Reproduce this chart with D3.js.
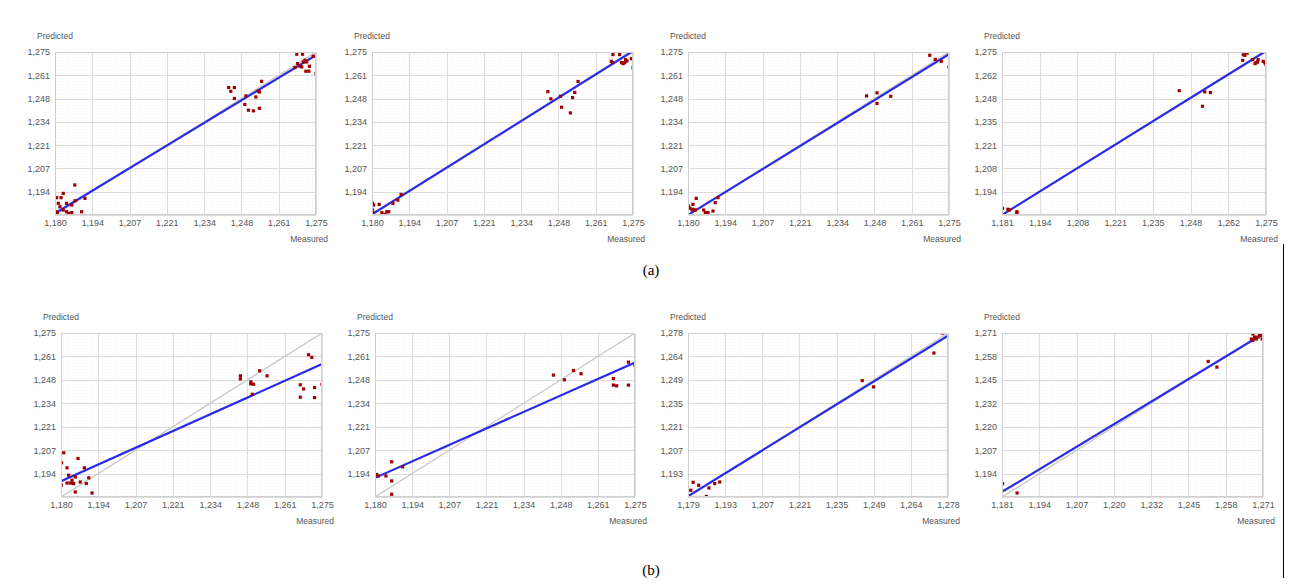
<!DOCTYPE html>
<html><head><meta charset="utf-8">
<script src="https://cdn.jsdelivr.net/npm/d3@7"></script>
<style>
html,body{margin:0;padding:0;background:#fff;}
svg{display:block;}
</style></head>
<body>
<svg id="chart" width="1298" height="588"></svg>
<script>
// ---------- DATA ----------
const panelIds = ["a1","a2","a3","a4","b1","b2","b3","b4"];
const xDomains = [[1.180,1.275],[1.180,1.275],[1.180,1.275],[1.181,1.275],[1.180,1.275],[1.180,1.275],[1.17895,1.27765],[1.181,1.271]];
const yDomains = xDomains;
const tickLabels = [
  ["1,180","1,194","1,207","1,221","1,234","1,248","1,261","1,275"],
  ["1,180","1,194","1,207","1,221","1,234","1,248","1,261","1,275"],
  ["1,180","1,194","1,207","1,221","1,234","1,248","1,261","1,275"],
  ["1,181","1,194","1,208","1,221","1,235","1,248","1,262","1,275"],
  ["1,180","1,194","1,207","1,221","1,234","1,248","1,261","1,275"],
  ["1,180","1,194","1,207","1,221","1,234","1,248","1,261","1,275"],
  ["1,179","1,193","1,207","1,221","1,235","1,249","1,264","1,278"],
  ["1,181","1,194","1,207","1,220","1,232","1,245","1,258","1,271"]
];
// regression line: predicted value at the left and right ends of the measured axis
const fitLo = [1.1810,1.1804,1.1800,1.1810,1.1891,1.1911,1.1794,1.1838];
const fitHi = [1.2731,1.2756,1.2737,1.2756,1.2570,1.2579,1.2760,1.2705];

const pointsA1 = [[1.2680,1.2737],[1.2701,1.2737],[1.2683,1.2682],[1.2673,1.2659],[1.2704,1.2692],[1.2710,1.2702],[1.2716,1.2692],[1.2726,1.2667],[1.2713,1.2638],[1.2724,1.2638],[1.2692,1.2667],[1.2740,1.2725],[1.2750,1.2624],[1.2698,1.2663],
 [1.2432,1.2543],[1.2453,1.2543],[1.2440,1.2521],[1.2453,1.2479],[1.2495,1.2494],[1.2491,1.2444],[1.2504,1.2411],[1.2522,1.2407],[1.2544,1.2422],[1.2531,1.2488],[1.2544,1.2517],[1.2552,1.2579],[1.2540,1.2523],
 [1.1806,1.1901],[1.1822,1.1901],[1.1830,1.1926],[1.1812,1.1868],[1.1818,1.1848],[1.1804,1.1819],[1.1808,1.1810],[1.1842,1.1819],[1.1849,1.1810],[1.1855,1.1800],[1.1861,1.1814],[1.1873,1.1883],[1.1897,1.1819],[1.1909,1.1897],[1.1872,1.1975],[1.1842,1.1868],[1.1830,1.1829],[1.1861,1.1858]];
const pointsA2 = [[1.2677,1.2735],[1.2701,1.2735],[1.2671,1.2696],[1.2675,1.2688],[1.2708,1.2688],[1.2720,1.2688],[1.2723,1.2706],[1.2744,1.2711],[1.2750,1.2659],[1.2714,1.2682],[1.2728,1.2698],
 [1.2440,1.2519],[1.2451,1.2477],[1.2490,1.2428],[1.2522,1.2395],[1.2530,1.2484],[1.2538,1.2514],[1.2550,1.2578],[1.2486,1.2492],
 [1.1802,1.1868],[1.1806,1.1858],[1.1802,1.1829],[1.1803,1.1814],[1.1826,1.1862],[1.1836,1.1814],[1.1842,1.1800],[1.1854,1.1819],[1.1848,1.1804],[1.1861,1.1819],[1.1876,1.1868],[1.1894,1.1887],[1.1906,1.1920]];
const pointsA3 = [[1.2680,1.2731],[1.2700,1.2707],[1.2722,1.2696],[1.2750,1.2663],
 [1.2450,1.2494],[1.2488,1.2512],[1.2488,1.2450],[1.2538,1.2492],
 [1.1802,1.1852],[1.1808,1.1839],[1.1818,1.1862],[1.1821,1.1833],[1.1827,1.1829],[1.1830,1.1897],[1.1815,1.1829],[1.1857,1.1829],[1.1863,1.1814],[1.1873,1.1814],[1.1891,1.1823],[1.1899,1.1872],[1.1909,1.1901]];
const pointsA4 = [[1.2675,1.2731],[1.2669,1.2734],[1.2678,1.2750],[1.2667,1.2702],[1.2683,1.2744],[1.2702,1.2706],[1.2711,1.2683],[1.2720,1.2692],[1.2722,1.2706],[1.2714,1.2688],[1.2740,1.2696],[1.2750,1.2677],[1.2746,1.2688],
 [1.2441,1.2527],[1.2524,1.2437],[1.2532,1.2520],[1.2552,1.2516],
 [1.1812,1.1848],[1.1831,1.1843],[1.1837,1.1839],[1.1863,1.1829],[1.1863,1.1810],[1.1863,1.1822]];
const pointsB1 = [[1.2701,1.2624],[1.2713,1.2609],[1.2671,1.2450],[1.2683,1.2426],[1.2723,1.2434],[1.2750,1.2453],[1.2671,1.2378],[1.2723,1.2376],
 [1.2453,1.2502],[1.2453,1.2484],[1.2491,1.2455],[1.2501,1.2453],[1.2496,1.2395],[1.2523,1.2531],[1.2550,1.2502],[1.2491,1.2467],
 [1.1810,1.2056],[1.1802,1.1998],[1.1822,1.1969],[1.1801,1.1868],[1.1828,1.1926],[1.1834,1.1881],[1.1822,1.1881],[1.1844,1.1878],[1.1840,1.1897],[1.1852,1.1916],[1.1862,1.2023],[1.1870,1.1887],[1.1885,1.1969],[1.1892,1.1878],[1.1901,1.1911],[1.1913,1.1823],[1.1852,1.1829],[1.1846,1.1878]];
const pointsB2 = [[1.2726,1.2581],[1.2750,1.2562],[1.2671,1.2486],[1.2671,1.2448],[1.2683,1.2444],[1.2726,1.2448],
 [1.2452,1.2506],[1.2492,1.2479],[1.2525,1.2533],[1.2553,1.2514],
 [1.1800,1.1930],[1.1806,1.1930],[1.1812,1.1922],[1.1840,1.1922],[1.1861,1.2004],[1.1901,1.1975],[1.1861,1.1893],[1.1861,1.1816]];
const pointsB3 = [[1.2755,1.2776],[1.2723,1.2656],[1.2451,1.2490],[1.2494,1.2452],
 [1.1800,1.1830],[1.1809,1.1878],[1.1830,1.1860],[1.1869,1.1844],[1.1891,1.1870],[1.1910,1.1880],[1.1859,1.1793]];
const pointsB4 = [[1.2675,1.2705],[1.2681,1.2688],[1.2670,1.2677],[1.2675,1.2670],[1.2687,1.2677],[1.2698,1.2706],[1.2704,1.2695],[1.2707,1.2677],[1.2693,1.2688],
 [1.2521,1.2554],[1.2551,1.2523],
 [1.1812,1.1883],[1.1862,1.1832]];
const allPoints = [pointsA1,pointsA2,pointsA3,pointsA4,pointsB1,pointsB2,pointsB3,pointsB4];
const groupLabels = ["(a)","(b)"];
const xTitle = "Measured", yTitle = "Predicted";

// ---------- LAYOUT ----------
const boxes = [
  {x0:55, x1:316, y0:52, y1:215},
  {x0:372,x1:633, y0:52, y1:215},
  {x0:688,x1:949, y0:52, y1:215},
  {x0:1002,x1:1266,y0:52, y1:215},
  {x0:61, x1:322, y0:333,y1:497},
  {x0:375,x1:635, y0:333,y1:497},
  {x0:688,x1:948, y0:333,y1:497},
  {x0:1002,x1:1263,y0:333,y1:497}
];
const svg = d3.select("#chart");
const defs = svg.append("defs");
const pat = defs.append("pattern").attr("id","dots").attr("width",3).attr("height",3).attr("patternUnits","userSpaceOnUse");
pat.append("rect").attr("width",3).attr("height",3).attr("fill","#fff");
pat.append("rect").attr("width",1).attr("height",1).attr("fill","#f5f5f5");

const FONT = "Liberation Sans, Arial, sans-serif";
const txtCol = "#555";

panelIds.forEach((id,i)=>{
  const b = boxes[i];
  const x = d3.scaleLinear().domain(xDomains[i]).range([b.x0,b.x1]);
  const y = d3.scaleLinear().domain(yDomains[i]).range([b.y1,b.y0]);
  const ticksX = d3.range(8).map(k=>xDomains[i][0]+k*(xDomains[i][1]-xDomains[i][0])/7);
  const ticksY = d3.range(8).map(k=>yDomains[i][0]+k*(yDomains[i][1]-yDomains[i][0])/7);
  const g = svg.append("g").attr("id","panel-"+id);
  defs.append("clipPath").attr("id","clip-"+id).append("rect")
    .attr("x",b.x0).attr("y",b.y0).attr("width",b.x1-b.x0).attr("height",b.y1-b.y0);

  g.append("rect").attr("x",b.x0).attr("y",b.y0).attr("width",b.x1-b.x0).attr("height",b.y1-b.y0)
    .attr("fill","url(#dots)");

  // grid
  g.append("g").selectAll("line").data(ticksX).join("line")
    .attr("x1",d=>Math.round(x(d))+0.5).attr("x2",d=>Math.round(x(d))+0.5)
    .attr("y1",b.y0).attr("y2",b.y1).attr("stroke","#dcdcdc").attr("stroke-width",1);
  g.append("g").selectAll("line").data(ticksY).join("line")
    .attr("y1",d=>Math.round(y(d))+0.5).attr("y2",d=>Math.round(y(d))+0.5)
    .attr("x1",b.x0).attr("x2",b.x1).attr("stroke","#dcdcdc").attr("stroke-width",1);

  // x tick labels
  const xAxis = d3.axisBottom(x).tickValues(ticksX).tickSize(0).tickPadding(0)
    .tickFormat((d,k)=>tickLabels[i][k]);
  const gx = g.append("g").attr("transform",`translate(0,${b.y1+11})`).call(xAxis);
  gx.select(".domain").remove();
  gx.selectAll("text").attr("font-family",FONT).attr("font-size",9).attr("fill",txtCol).attr("dy","0");

  // y tick labels (skip the lowest: it coincides with the x origin label)
  const yAxis = d3.axisLeft(y).tickValues(ticksY.slice(1)).tickSize(0).tickPadding(5)
    .tickFormat((d,k)=>tickLabels[i][k+1]);
  const gy = g.append("g").attr("transform",`translate(${b.x0},0)`).call(yAxis);
  gy.select(".domain").remove();
  gy.selectAll("text").attr("font-family",FONT).attr("font-size",9).attr("fill",txtCol);

  // axis titles
  g.append("text").attr("x",b.x0-18).attr("y",b.y0-13).text(yTitle)
    .attr("font-family",FONT).attr("font-size",8.5).attr("fill",txtCol);
  g.append("text").attr("x",b.x1+12).attr("y",b.y1+27).attr("text-anchor","end").text(xTitle)
    .attr("font-family",FONT).attr("font-size",8.5).attr("fill",txtCol);

  const clip = g.append("g").attr("clip-path",`url(#clip-${id})`);
  // identity line
  clip.append("line")
    .attr("x1",x(xDomains[i][0])).attr("y1",y(xDomains[i][0]))
    .attr("x2",x(xDomains[i][1])).attr("y2",y(xDomains[i][1]))
    .attr("stroke","#c4c4c4").attr("stroke-width",1.2);
  // regression line
  clip.append("line")
    .attr("x1",x(xDomains[i][0])).attr("y1",y(fitLo[i]))
    .attr("x2",x(xDomains[i][1])).attr("y2",y(fitHi[i]))
    .attr("stroke","#2a2ae6").attr("stroke-width",2.2);
  // points
  clip.append("g").selectAll("rect").data(allPoints[i]).join("rect")
    .attr("x",d=>x(d[0])-1.6).attr("y",d=>y(d[1])-1.6)
    .attr("width",3.2).attr("height",3.2).attr("fill","#a00000");

  // border
  g.append("rect").attr("x",b.x0+0.5).attr("y",b.y0+0.5).attr("width",b.x1-b.x0-1).attr("height",b.y1-b.y0-1)
    .attr("fill","none").attr("stroke","#cfcfcf");
});

// group captions
svg.append("text").attr("x",651).attr("y",275).attr("text-anchor","middle").text(groupLabels[0])
  .attr("font-family","Liberation Serif, Times New Roman, serif").attr("font-size",15).attr("fill","#000");
svg.append("text").attr("x",651).attr("y",575).attr("text-anchor","middle").text(groupLabels[1])
  .attr("font-family","Liberation Serif, Times New Roman, serif").attr("font-size",15).attr("fill","#000");
// right vertical separator
svg.append("line").attr("x1",1283.5).attr("x2",1283.5).attr("y1",244).attr("y2",578)
  .attr("stroke","#000").attr("stroke-width",1);
</script>
</body></html>
